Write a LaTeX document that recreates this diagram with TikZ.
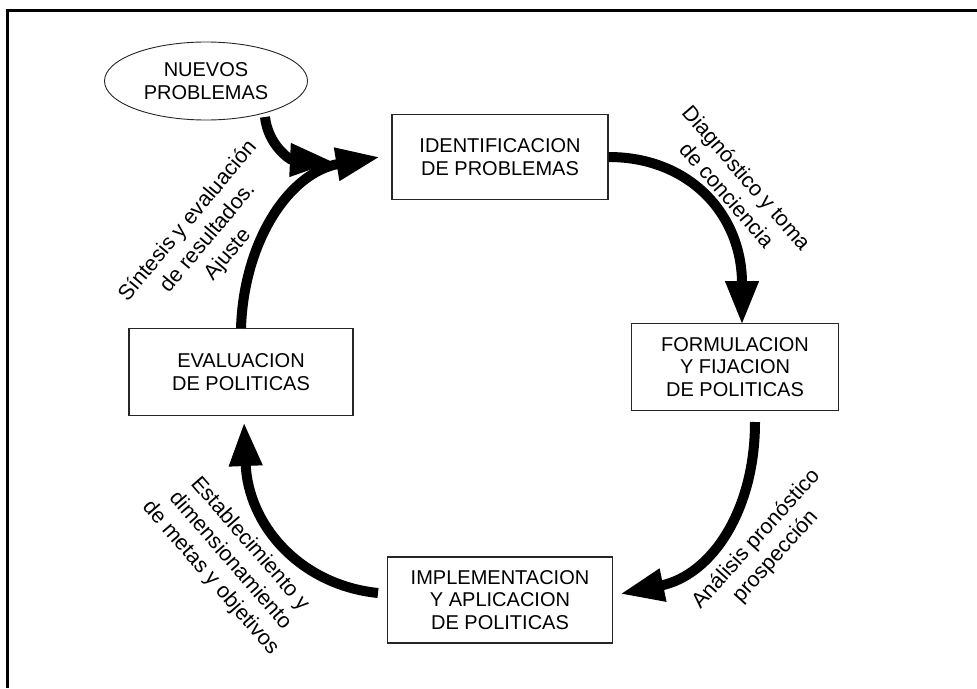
\documentclass[tikz,border=0pt]{standalone}
\usepackage{fontspec}
\setmainfont{Liberation Sans}
\usetikzlibrary{arrows.meta,shapes.geometric}
\begin{document}
\begin{tikzpicture}[x=1pt,y=-1pt,
  boxtext/.style={font=\fontsize{20}{22.5}\selectfont, align=center, inner sep=0pt},
  stage/.style={boxtext, draw=black!85, line width=1.1pt},
  flow/.style={line width=10pt, -{Triangle[length=44pt,width=31pt]}},
  note/.style={font=\fontsize{21.5}{26}\selectfont, align=center, inner sep=0pt}
]
\useasboundingbox (0,0) rectangle (977,688);
% outer frame (left and top edges)
\draw[line width=3pt] (7.5,688) -- (7.5,10) -- (977,10);

% stages of the cycle
\node[stage, minimum width=216pt, minimum height=85pt] (ident) at (500,157) {IDENTIFICACION\\DE PROBLEMAS};
\node[stage, minimum width=207pt, minimum height=87pt] (form) at (735,367) {FORMULACION\\Y FIJACION\\DE POLITICAS};
\node[stage, minimum width=225pt, minimum height=86pt] (impl) at (500,600) {IMPLEMENTACION\\Y APLICACION\\DE POLITICAS};
\node[stage, minimum width=224pt, minimum height=87pt] (eval) at (241,372) {EVALUACION\\DE POLITICAS};
\node[boxtext, draw=black!85, line width=0.9pt, ellipse, minimum width=203pt, minimum height=78pt] (nuevos) at (206,81) {NUEVOS\\PROBLEMAS};

% connectors
\coordinate (formtop) at (742,325);
\coordinate (formbot) at (755,422);
\coordinate (impltip) at (620,594);
\coordinate (implleft) at (378,593);
\coordinate (evaltip) at (244,422);
\coordinate (identtip) at (380,157);
\coordinate (nuevostip) at (334,162);
\coordinate (nuevosbot) at (265,117);

\draw[flow] (ident.east) .. controls (690,157) and (742,215) .. (formtop);
\draw[flow] (formbot) .. controls (755,510) and (712,575) .. (impltip);
\draw[flow] (implleft) .. controls (300,585) and (248,525) .. (evaltip);
\draw[flow] (eval.north) .. controls (244,240) and (290,172) .. (identtip);
\draw[flow] (nuevosbot) .. controls (268,145) and (290,160) .. (nuevostip);

% labels along the connectors
\node[note, rotate=-49] (lbl1) at (737,186) {Diagnóstico y toma\\de conciencia};
\node[note, rotate=48] (lbl2) at (766,548) {Análisis pronóstico\\prospección};
\node[note, rotate=-49] (lbl3) at (230,561) {Establecimiento y\\dimensionamiento\\de metas y objetivos};
\node[note, rotate=50] (lbl4) at (208,238) {Síntesis y evaluación\\de resultados.\\Ajuste};
\end{tikzpicture}
\end{document}
